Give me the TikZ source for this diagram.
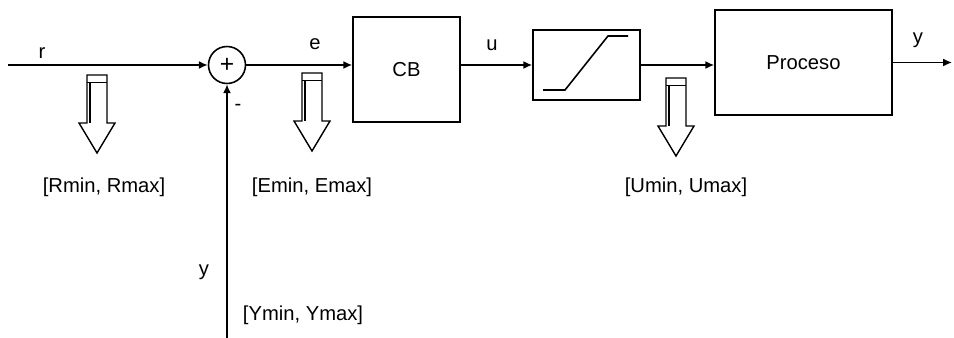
\documentclass[tikz,border=0pt]{standalone}
\usepackage{fontspec}
\setmainfont{Liberation Sans}
\usetikzlibrary{arrows.meta}

\tikzset{
  blk/.style={draw, line width=0.9pt, inner sep=0pt},
  lbl/.style={font=\fontsize{11.5}{13}\selectfont, inner sep=0pt},
  sig/.style={line width=0.9pt, -{Latex[length=5pt,width=4.5pt]}},
  range/.pic={
    \draw[line width=0.8pt] (-10,0) -- (10,0) -- (10,48) -- (18,48) -- (0,78)
      -- (-18,48) -- (-10,48) -- cycle;
    \draw[line width=0.5pt] (-10,7) -- (10,7);
    \draw[line width=1.4pt] (-7,7) -- (-7,48);
  }
}

\begin{document}
\begin{tikzpicture}[x=0.02cm, y=-0.02cm]
  \useasboundingbox (0,0) rectangle (954,338);

  % bloques
  \node[blk, circle, minimum size=0.74cm] (sum) at (227,65) {\fontsize{14}{14}\selectfont +};
  \node[blk, minimum width=2.14cm, minimum height=2.1cm, lbl] (cb) at (406.5,69.5) {CB};
  \node[blk, minimum width=2.14cm, minimum height=1.4cm] (sat) at (586.5,65) {};
  \node[blk, minimum width=3.54cm, minimum height=2.1cm, lbl] (proc) at (803.5,62.5) {Proceso};

  % saturacion
  \draw[line width=0.9pt] (543,90) -- (565,90) -- (608,36) -- (628,36);

  \coordinate (rin) at (8,65);
  \coordinate (yend) at (952,62.5);
  \coordinate (fb) at (227,338);

  % senales
  \draw[sig] (rin) -- (sum);
  \draw[sig] (sum) -- (sum -| cb.west);
  \draw[sig] (cb.east |- sat) -- (sat.west);
  \draw[sig] (sat) -- (sat -| proc.west);
  \draw[sig] (proc) -- (yend);
  \draw[sig] (fb) -- (sum);

  \node[lbl] (r) at (42,53) {r};
  \node[lbl] (e) at (315,44) {e};
  \node[lbl] (u) at (492,45) {u};
  \node[lbl] (y) at (918,40) {y};
  \node[lbl] (menos) at (238,107) {-};
  \node[lbl] (yfb) at (204,272) {y};

  % rangos
  \pic at (97,75) {range};
  \pic at (312,73) {range};
  \pic at (676,78) {range};

  \node[lbl] (rr) at (104,187) {[Rmin, Rmax]};
  \node[lbl] (er) at (312,187) {[Emin, Emax]};
  \node[lbl] (ur) at (686,187) {[Umin, Umax]};
  \node[lbl] (yr) at (303,315) {[Ymin, Ymax]};
\end{tikzpicture}
\end{document}
